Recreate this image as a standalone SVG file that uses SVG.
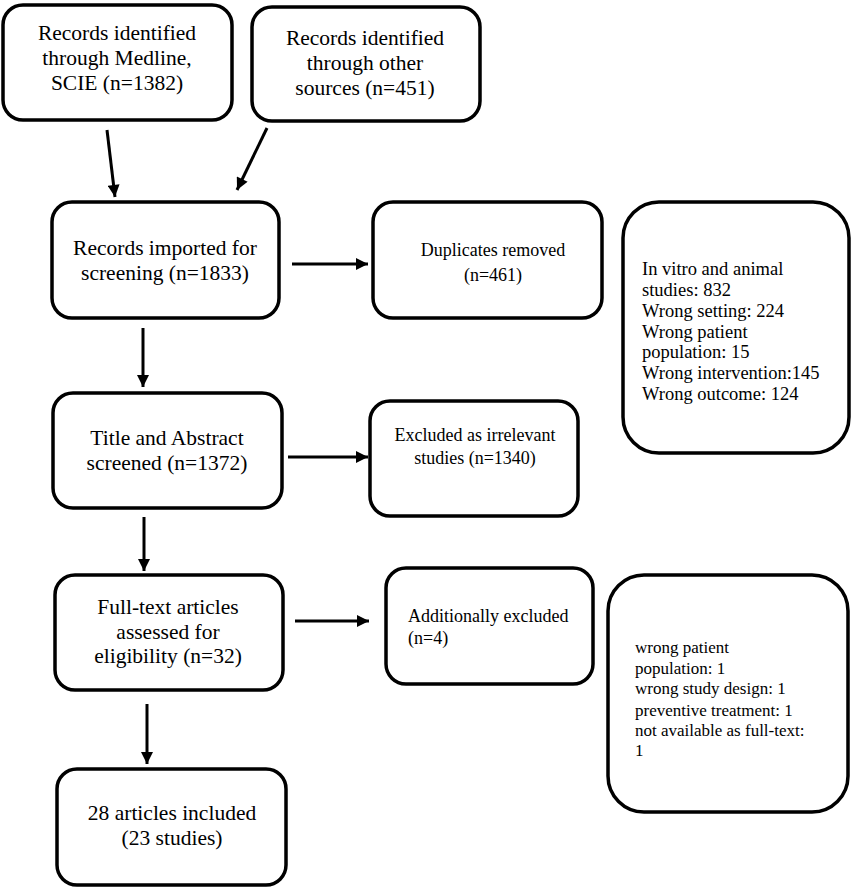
<svg xmlns="http://www.w3.org/2000/svg" width="851" height="888" viewBox="0 0 851 888">
<defs>
<style>
.box{fill:#fff;stroke:#000;stroke-width:3.5}
.t{font-family:"Liberation Serif","Times New Roman",serif;fill:#000}
.c{text-anchor:middle;font-size:21.5px}
.s{font-size:18px}
.l{font-size:18.5px}
.l2{font-size:17px}
.con line{stroke:#000;stroke-width:3;marker-end:url(#ah)}
</style>
<marker id="ah" markerUnits="userSpaceOnUse" markerWidth="13" markerHeight="12" refX="12" refY="6" orient="auto" viewBox="0 0 12 12">
<path d="M0,0 L12,6 L0,12 Z" fill="#000"/>
</marker>
</defs>
<rect width="851" height="888" fill="#fff"/>
<g id="n1"><rect class="box" x="3" y="5" width="229" height="115" rx="20"/>
<text class="t c" x="117"><tspan x="117" y="40">Records identified</tspan><tspan x="117" y="65">through Medline,</tspan><tspan x="117" y="90">SCIE (n=1382)</tspan></text></g>
<g id="n2"><rect class="box" x="252" y="7" width="228" height="114" rx="20"/>
<text class="t c"><tspan x="365" y="45">Records identified</tspan><tspan x="365" y="70">through other</tspan><tspan x="365" y="95">sources (n=451)</tspan></text></g>
<g id="n3"><rect class="box" x="52" y="202" width="227" height="116" rx="20"/>
<text class="t c"><tspan x="165" y="255">Records imported for</tspan><tspan x="165" y="280">screening (n=1833)</tspan></text></g>
<g id="n4"><rect class="box" x="373" y="202" width="229" height="116" rx="20"/>
<text class="t c s"><tspan x="493" y="256">Duplicates removed</tspan><tspan x="493" y="281">(n=461)</tspan></text></g>
<g id="n5"><rect class="box" x="623" y="202" width="226" height="251" rx="36"/>
<text class="t l"><tspan x="642" y="275">In vitro and animal</tspan><tspan x="642" y="296">studies: 832</tspan><tspan x="642" y="317">Wrong setting: 224</tspan><tspan x="642" y="338">Wrong patient</tspan><tspan x="642" y="358">population: 15</tspan><tspan x="642" y="379">Wrong intervention:145</tspan><tspan x="642" y="400">Wrong outcome: 124</tspan></text></g>
<g id="n6"><rect class="box" x="53" y="393" width="229" height="115" rx="20"/>
<text class="t c"><tspan x="167" y="445">Title and Abstract</tspan><tspan x="167" y="470">screened (n=1372)</tspan></text></g>
<g id="n7"><rect class="box" x="370" y="401" width="208" height="115" rx="20"/>
<text class="t c s"><tspan x="475" y="441">Excluded as irrelevant</tspan><tspan x="475" y="464">studies (n=1340)</tspan></text></g>
<g id="n8"><rect class="box" x="55" y="575" width="228" height="115" rx="20"/>
<text class="t c"><tspan x="168" y="614">Full-text articles</tspan><tspan x="168" y="639">assessed for</tspan><tspan x="168" y="663">eligibility (n=32)</tspan></text></g>
<g id="n9"><rect class="box" x="386" y="568" width="207" height="116" rx="20"/>
<text class="t s"><tspan x="408" y="622">Additionally excluded</tspan><tspan x="408" y="644">(n=4)</tspan></text></g>
<g id="n10"><rect class="box" x="608" y="575" width="240" height="237" rx="36"/>
<text class="t l2"><tspan x="635" y="653">wrong patient</tspan><tspan x="635" y="674">population: 1</tspan><tspan x="635" y="694">wrong study design: 1</tspan><tspan x="635" y="716">preventive treatment: 1</tspan><tspan x="635" y="736">not available as full-text:</tspan><tspan x="635" y="756">1</tspan></text></g>
<g id="n11"><rect class="box" x="57" y="769" width="229" height="116" rx="20"/>
<text class="t c"><tspan x="172" y="820">28 articles included</tspan><tspan x="172" y="845">(23 studies)</tspan></text></g>
<g id="connectors" class="con">
<line x1="107" y1="130" x2="115" y2="197"/>
<line x1="267" y1="128" x2="237" y2="190"/>
<line x1="292" y1="264" x2="368" y2="264"/>
<line x1="143" y1="328" x2="143" y2="387"/>
<line x1="288" y1="457" x2="368" y2="457"/>
<line x1="144" y1="517" x2="144" y2="571"/>
<line x1="295" y1="621" x2="369" y2="621"/>
<line x1="147" y1="704" x2="147" y2="764"/>
</g>
</svg>
